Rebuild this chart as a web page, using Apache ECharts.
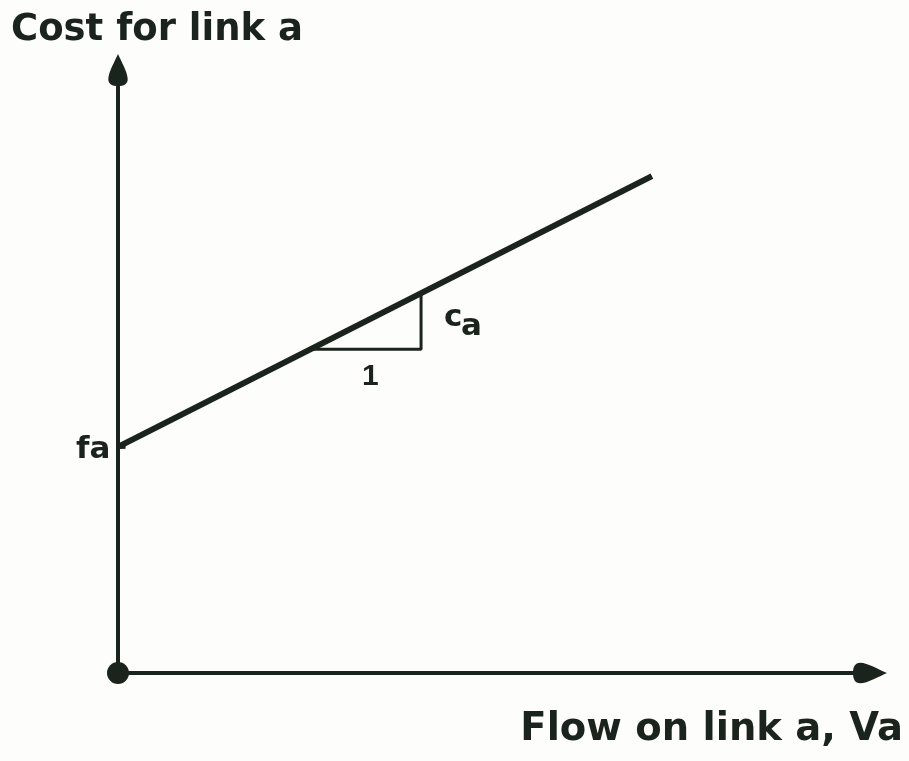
<!DOCTYPE html>
<html>
<head>
<meta charset="utf-8">
<script src="https://cdn.jsdelivr.net/npm/echarts@6/dist/echarts.min.js"></script>
<style>
  html, body { margin: 0; padding: 0; background: #fdfdfb; }
  #main { width: 909px; height: 761px; }
</style>
</head>
<body>
<div id="main"></div>
<script>
// link cost function: cost = fa + ca * flow
var flowValues = [0, 71];
var costValues = [37.5, 82.4];
// slope triangle (run of 1, rise of ca)
var triFlow = [25.6, 40.3, 40.3];
var triCost = [53.7, 53.7, 63.0];
// tick mark at fa on the cost axis
var faTickFlow = [-1.8, 1.0];
var faTickCost = [37.5, 37.5];
var originPoint = [[0, 0]];

var ink = '#1b231d';
var arrowPath = 'path://M10,0 C13,7 20,19 20,26 C20,31 16,33 10,33 C4,33 0,31 0,26 C0,19 7,7 10,0 Z';

function pairs(xs, ys) {
    var out = [];
    for (var i = 0; i < xs.length; i++) out.push([xs[i], ys[i]]);
    return out;
}

var chart = echarts.init(document.getElementById('main'));

var option = {
    backgroundColor: '#fdfdfb',
    animation: false,
    grid: {
        left: 118,
        right: 39,
        top: 70,
        bottom: 88
    },
    xAxis: {
        type: 'value',
        min: 0,
        max: 100,
        axisLine: {
            show: true,
            symbol: ['none', arrowPath],
            symbolSize: [22, 34],
            lineStyle: { color: ink, width: 4 }
        },
        axisTick: { show: false },
        axisLabel: { show: false },
        splitLine: { show: false }
    },
    yAxis: {
        type: 'value',
        min: 0,
        max: 100,
        axisLine: {
            show: true,
            symbol: ['none', arrowPath],
            symbolSize: [22, 32],
            lineStyle: { color: ink, width: 4 }
        },
        axisTick: { show: false },
        axisLabel: { show: false },
        splitLine: { show: false }
    },
    series: [
        {
            // cost line
            type: 'line',
            data: pairs(flowValues, costValues),
            showSymbol: false,
            clip: false,
            lineStyle: { color: ink, width: 6 }
        },
        {
            // slope triangle
            type: 'line',
            data: pairs(triFlow, triCost),
            showSymbol: false,
            clip: false,
            lineStyle: { color: ink, width: 3 }
        },
        {
            // fa tick
            type: 'line',
            data: pairs(faTickFlow, faTickCost),
            showSymbol: false,
            clip: false,
            lineStyle: { color: ink, width: 4 }
        },
        {
            // origin dot
            type: 'scatter',
            data: originPoint,
            symbolSize: 22,
            clip: false,
            z: 5,
            itemStyle: { color: ink, opacity: 1 }
        }
    ],
    graphic: [
        {
            type: 'text', left: 11, top: 12,
            style: { text: 'Cost for link a', fill: ink, font: 'bold 37px "DejaVu Sans"' }
        },
        {
            type: 'text', right: 6, top: 710,
            style: { text: 'Flow on link a, Va', fill: ink, font: 'bold 38.5px "DejaVu Sans"' }
        },
        {
            type: 'text', left: 76, top: 434,
            style: { text: 'fa', fill: ink, font: 'bold 31px "DejaVu Sans"' }
        },
        {
            type: 'text', left: 444, top: 302,
            style: { text: 'c', fill: ink, font: 'bold 31px "DejaVu Sans"' }
        },
        {
            type: 'text', left: 461, top: 311,
            style: { text: 'a', fill: ink, font: 'bold 31px "DejaVu Sans"' }
        },
        {
            type: 'text', left: 362, top: 362,
            style: { text: '1', fill: ink, font: 'bold 30px "Liberation Sans"' }
        }
    ]
};

chart.setOption(option);
</script>
</body>
</html>
